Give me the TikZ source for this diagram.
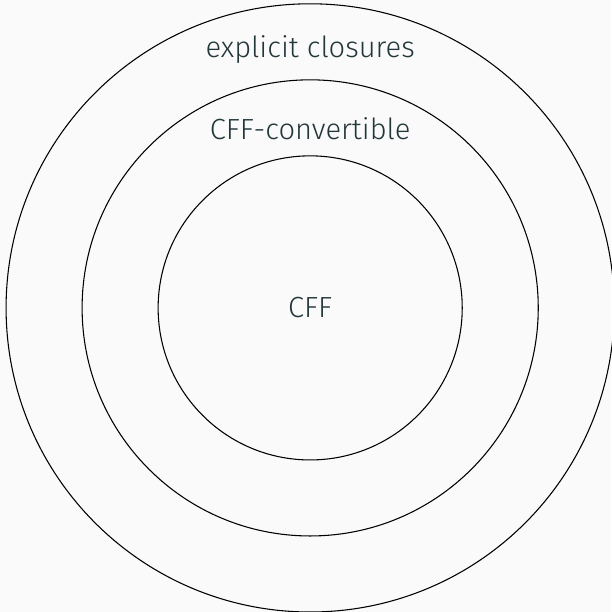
\documentclass[tikz,border=0pt]{standalone}
\usepackage{fontspec}
\setmainfont{Fira Sans}[UprightFont=* Light]
\definecolor{mDarkTeal}{HTML}{23373B}
\definecolor{mBack}{HTML}{FAFAFA}

\begin{document}
\begin{tikzpicture}[thin,label/.style={text=mDarkTeal,anchor=base,font=\fontsize{10.9}{13}\selectfont}]

    \fill[mBack] (-4.08,-4.0) rectangle (3.96,4.05);
    \useasboundingbox (-4.08,-4.0) rectangle (3.96,4.05);

    \coordinate (O) at (0,0);
    \draw (O) circle (4);
    \draw (O) circle (3);
    \draw (O) circle (2);

    \draw (0,3.29) node[label] (closures) {explicit closures};
    \draw (0,2.22) node[label] (convertible) {CFF-convertible};
    \draw (0,-0.13) node[label] (cff) {CFF};

\end{tikzpicture}
\end{document}
